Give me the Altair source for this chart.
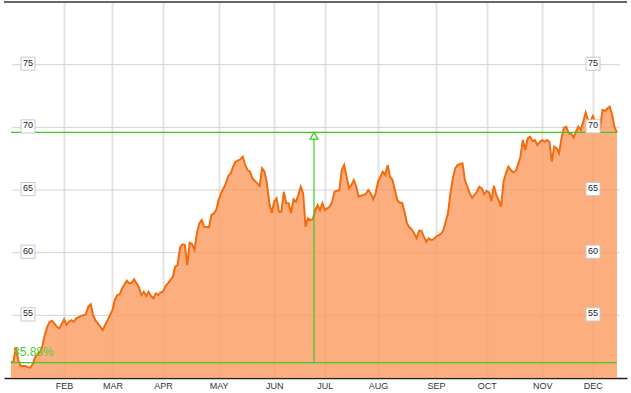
import altair as alt
import pandas as pd

# ---- data (trading-day index, price) ----
day_index = [0, 1, 2, 3, 4, 6, 7, 8, 9, 10, 12, 13, 14, 15, 16, 17, 19, 20, 21, 22,
             23, 24, 25, 26, 27, 29, 30, 31, 32, 33, 34, 35, 36, 38, 39, 40, 42, 43, 44, 45,
             46, 48, 49, 50, 51, 52, 53, 54, 55, 56, 57, 58, 59, 60, 61, 62, 63, 64, 65, 67,
             68, 69, 70, 71, 72, 73, 74, 75, 76, 77, 78, 79, 80, 82, 83, 84, 85, 86, 87, 89,
             90, 91, 92, 93, 95, 96, 97, 98, 99, 100, 102, 103, 104, 105, 106, 107, 108, 109, 110, 111,
             112, 113, 114, 115, 116, 117, 118, 119, 120, 121, 122, 123, 124, 125, 126, 127, 128, 129, 130, 132,
             133, 134, 136, 137, 138, 139, 140, 141, 142, 143, 144, 146, 147, 148, 149, 150, 151, 152, 154, 155,
             156, 157, 158, 159, 160, 161, 162, 163, 164, 165, 166, 167, 168, 169, 170, 171, 172, 173, 174, 175,
             176, 178, 179, 181, 182, 183, 184, 185, 187, 188, 189, 190, 191, 193, 194, 195, 196, 197, 198, 199,
             200, 201, 202, 203, 204, 205, 206, 207, 208, 209, 210, 211, 212, 213, 214, 215, 216, 217, 218, 219,
             220, 221, 222, 223, 224, 225, 226, 227, 228, 229, 230, 231, 232, 233, 234, 235, 236, 237, 238, 239,
             240, 241, 242, 243, 244, 245, 246, 247, 248, 249, 250, 251]

price = [51.22, 51.35, 52.45, 51.43, 50.95, 50.95, 50.85, 50.82, 51.11, 51.65, 52.09, 52.55, 53.43, 54.09, 54.49, 54.57, 54.09, 53.96, 54.30, 54.68,
         54.23, 54.49, 54.62, 54.49, 54.76, 54.94, 55.02, 55.08, 55.69, 55.88, 55.02, 54.57, 54.36, 53.83, 54.23, 54.62, 55.42, 56.22, 56.62, 56.67,
         57.15, 57.76, 57.55, 57.60, 57.87, 57.55, 57.23, 56.62, 56.88, 56.54, 56.88, 56.54, 56.36, 56.75, 56.62, 56.83, 56.88, 57.34, 57.55, 58.08,
         58.88, 59.01, 60.40, 60.66, 60.61, 59.01, 60.79, 60.69, 60.21, 61.54, 62.34, 62.60, 62.07, 62.02, 63.00, 63.14, 63.40, 64.20, 64.73, 65.53,
         66.12, 66.33, 66.86, 67.26, 67.45, 67.66, 67.00, 66.59, 66.46, 65.93, 65.53, 65.32, 66.73, 66.46, 65.53, 63.94, 63.19, 64.06, 64.34, 63.27,
         63.27, 64.86, 63.94, 63.94, 63.14, 64.26, 64.06, 64.60, 65.26, 64.73, 62.07, 62.74, 62.60, 62.66, 63.40, 63.80, 63.40, 63.94, 63.40, 63.67,
         64.06, 64.86, 65.00, 66.59, 67.00, 66.06, 65.13, 65.40, 65.80, 65.26, 64.46, 64.60, 64.68, 65.00, 64.73, 64.26, 64.73, 65.66, 66.46, 66.19,
         67.00, 66.06, 65.80, 65.00, 64.20, 63.99, 63.99, 63.27, 62.34, 62.02, 61.86, 61.54, 61.14, 61.75, 61.75, 61.27, 60.87, 61.14, 61.01, 61.06,
         61.27, 61.49, 61.75, 63.14, 64.73, 65.93, 66.73, 67.00, 67.13, 65.80, 65.26, 64.73, 64.38, 64.86, 65.26, 65.13, 64.66, 64.92, 64.81, 64.12,
         65.34, 64.60, 64.20, 63.67, 65.66, 66.33, 66.86, 66.59, 66.41, 66.51, 67.00, 67.66, 68.99, 68.19, 69.12, 69.25, 68.91, 68.99, 68.59, 68.81,
         68.99, 68.85, 68.99, 68.85, 67.26, 68.45, 68.33, 67.93, 69.12, 69.97, 70.05, 69.52, 69.52, 69.17, 69.65, 70.05, 69.79, 70.45, 71.18, 70.58,
         70.50, 70.90, 70.42, 69.79, 69.95, 71.38, 71.30, 71.50, 71.65, 70.98, 70.00, 69.60]

month_labels = ["FEB", "MAR", "APR", "MAY", "JUN", "JUL", "AUG", "SEP", "OCT", "NOV", "DEC"]
month_index = [22, 42, 63, 86, 109, 130, 152, 176, 197, 220, 241]

y_ticks = [55, 60, 65, 70, 75]
change_label = "35.88%"

# ---- tables ----
df = pd.DataFrame({"day": day_index, "price": price})
first_day, last_day = day_index[0], day_index[-1]
start_val, end_val = price[0], price[-1]
mid_day = (first_day + last_day) / 2

ann_h = pd.DataFrame({"x": [first_day, first_day], "x2": [last_day, last_day], "y": [start_val, end_val]})
ann_v = pd.DataFrame({"x": [mid_day], "y": [start_val], "y2": [end_val]})
ann_t = pd.DataFrame({"x": [first_day], "y": [start_val], "t": [change_label]})
ticks_df = pd.DataFrame({"v": y_ticks, "label": [str(t) for t in y_ticks]})
one = pd.DataFrame({"a": [0]})

GREEN = "#3fcc22"
FONT = "Liberation Sans"

xscale = alt.Scale(domain=[-2.9, 255.14], nice=False, zero=False)
yscale = alt.Scale(domain=[50, 80], nice=False, zero=False)

label_expr = ("[" + ",".join("'%s'" % m for m in month_labels) + "][indexof(["
              + ",".join(str(i) for i in month_index) + "], datum.value)]")

xaxis = alt.Axis(values=month_index, labelExpr=label_expr, grid=True, gridColor="#e3e3e3",
                 gridWidth=2, ticks=False, tickSize=0, domainColor="#222222", domainWidth=1.5,
                 labelFont=FONT, labelFontSize=9, labelColor="#333333", labelPadding=3,
                 title=None, labelFlush=False, labelOverlap=False)


def X(f):
    return alt.X(f, type="quantitative", scale=xscale, axis=xaxis)


def Y(f):
    return alt.Y(f, type="quantitative", scale=yscale, axis=None)


hgrid = alt.Chart(ticks_df).mark_rule(color="#d4d4d4", strokeWidth=1).encode(
    y=Y("v"), x=alt.value(8), x2=alt.value(616))

area = alt.Chart(df).mark_area(color="#fc9a5e", opacity=0.8).encode(
    x=X("day"), y=Y("price"), y2=alt.datum(50))

line = alt.Chart(df).mark_line(color="#f26b0f", strokeWidth=2).encode(
    x=X("day"), y=Y("price"))

top_line = alt.Chart(one).mark_rule(color="#333333", strokeWidth=1.5).encode(
    y=alt.value(0), x=alt.value(0), x2=alt.value(623))

g_h = alt.Chart(ann_h).mark_rule(color=GREEN, strokeWidth=1.2).encode(
    x=X("x"), x2="x2:Q", y=Y("y"))

g_v = alt.Chart(ann_v).mark_rule(color=GREEN, strokeWidth=1.2).encode(
    x=X("x"), y=Y("y"), y2="y2:Q")

g_tri = alt.Chart(ann_v).mark_point(shape="triangle-up", size=60, filled=True, fill="white",
                                    stroke=GREEN, strokeWidth=1.3, opacity=1, yOffset=3.4).encode(
    x=X("x"), y=Y("y2"))

g_txt = alt.Chart(ann_t).mark_text(align="left", baseline="alphabetic", dx=2, dy=-7,
                                   fontSize=12, font=FONT, color="#55cc33").encode(
    x=X("x"), y=Y("y"), text="t:N")

box_base = alt.Chart(ticks_df).transform_calculate(
    lo="datum.v - 0.45", hi="datum.v + 0.6")

box_left = box_base.mark_rect(fill="white", stroke="#c8c8c8", strokeWidth=1).encode(
    x=alt.value(17), x2=alt.value(31), y=Y("lo"), y2="hi:Q")
box_right = box_base.mark_rect(fill="white", stroke="#c8c8c8", strokeWidth=1).encode(
    x=alt.value(582), x2=alt.value(596), y=Y("lo"), y2="hi:Q")

txt_left = alt.Chart(ticks_df).mark_text(align="center", baseline="middle", dy=-2,
                                         fontSize=9, font=FONT, color="#222222").encode(
    x=alt.value(24), y=Y("v"), text="label:N")
txt_right = alt.Chart(ticks_df).mark_text(align="center", baseline="middle", dy=-2,
                                          fontSize=9, font=FONT, color="#222222").encode(
    x=alt.value(589), y=Y("v"), text="label:N")

chart = alt.layer(
    hgrid, area, line, top_line, g_h, g_v, g_tri, g_txt,
    box_left, box_right, txt_left, txt_right
).properties(
    width=623, height=376,
    padding={"left": 4, "top": 2, "right": 4, "bottom": 15},
    autosize=alt.AutoSizeParams(type="none"),
).configure_view(stroke=None)

chart.save("out.html", embed_options={"renderer": "svg", "actions": False})
